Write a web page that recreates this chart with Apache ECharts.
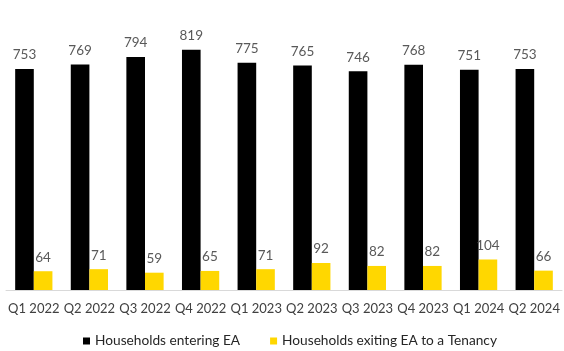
<!DOCTYPE html>
<html>
<head>
<meta charset="utf-8">
<script src="https://cdn.jsdelivr.net/npm/echarts@6/dist/echarts.min.js"></script>
<style>
  html, body { margin: 0; padding: 0; background: #fff; }
  #chart { width: 564px; height: 351px; }
</style>
</head>
<body>
<div id="chart"></div>
<script>
// Quarterly households entering emergency accommodation vs. exiting to a tenancy
const quarters = ['Q1 2022', 'Q2 2022', 'Q3 2022', 'Q4 2022', 'Q1 2023', 'Q2 2023', 'Q3 2023', 'Q4 2023', 'Q1 2024', 'Q2 2024'];
const entering = [753, 769, 794, 819, 775, 765, 746, 768, 751, 753];
const exiting = [64, 71, 59, 65, 71, 92, 82, 82, 104, 66];
const seriesNames = ['Households entering EA', 'Households exiting EA to a Tenancy'];

const FONT = 'Lato, "Open Sans", sans-serif';
const chart = echarts.init(document.getElementById('chart'), null, { renderer: 'canvas' });

const labelStyle = {
  show: true,
  position: 'top',
  distance: 7,
  color: '#595959',
  fontSize: 13.5,
  fontFamily: FONT
};

chart.setOption({
  animation: false,
  textStyle: { fontFamily: FONT },
  grid: { left: 6, right: 2, top: 26, bottom: 61, containLabel: false },
  legend: {
    bottom: 3,
    left: 83,
    padding: 0,
    itemWidth: 7,
    itemHeight: 7,
    itemGap: 30,
    icon: 'rect',
    textStyle: { color: '#262626', fontSize: 13.7, fontFamily: FONT },
    data: seriesNames
  },
  xAxis: {
    type: 'category',
    data: quarters,
    axisLine: { show: true, lineStyle: { color: '#d9d9d9', width: 1 } },
    axisTick: { show: false },
    axisLabel: { color: '#404040', fontSize: 13, fontFamily: FONT, margin: 12, interval: 0 }
  },
  yAxis: {
    type: 'value',
    min: 0,
    max: 900,
    show: false,
    splitLine: { show: false }
  },
  series: [
    {
      name: seriesNames[0],
      type: 'bar',
      data: entering,
      barGap: '0%',
      barCategoryGap: '33%',
      itemStyle: { color: '#000000' },
      label: labelStyle
    },
    {
      name: seriesNames[1],
      type: 'bar',
      data: exiting,
      itemStyle: { color: '#ffd700' },
      label: labelStyle
    }
  ]
});
</script>
</body>
</html>
